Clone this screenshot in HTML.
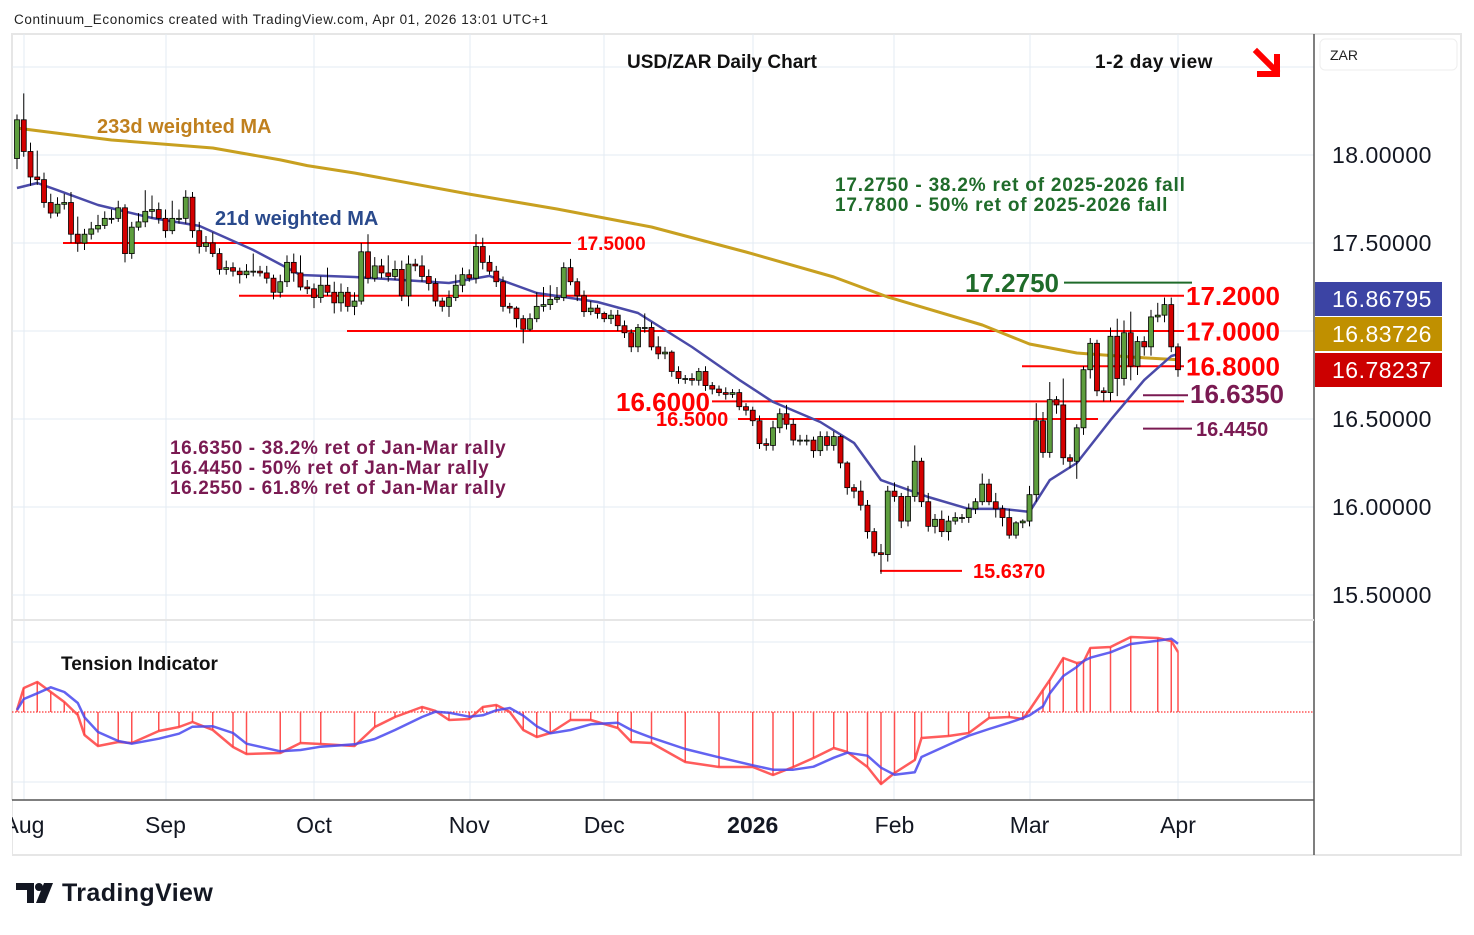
<!DOCTYPE html>
<html><head><meta charset="utf-8"><style>
html,body{margin:0;padding:0;background:#fff;}
body{width:1474px;height:930px;overflow:hidden;font-family:"Liberation Sans","DejaVu Sans",sans-serif;}
svg text{font-family:"Liberation Sans","DejaVu Sans",sans-serif;}
</style></head><body>
<svg id="chart" width="1474" height="930" xmlns="http://www.w3.org/2000/svg">
<rect x="0" y="0" width="1474" height="930" fill="#ffffff"/>
<text x="14" y="24" font-size="13.5" letter-spacing="0.6" fill="#222">Continuum_Economics created with TradingView.com, Apr 01, 2026 13:01 UTC+1</text>
<rect x="12" y="34" width="1449" height="821" fill="none" stroke="#e6e6e6" stroke-width="2"/>
<g id="grid"></g>
<line x1="1314" y1="34" x2="1314" y2="855" stroke="#555" stroke-width="1.5"/>
<line x1="12" y1="800" x2="1314" y2="800" stroke="#555" stroke-width="1.5"/>
<line x1="12" y1="620" x2="1314" y2="620" stroke="#e6e6e6" stroke-width="2"/>
<g id="levels"></g>
<g id="mas"></g>
<g id="candles"></g>
<g id="tension"></g>
<g id="axes"></g>
<text x="722" y="68" font-size="19" font-weight="bold" text-anchor="middle" fill="#111">USD/ZAR Daily Chart</text>
<text x="1095" y="68" font-size="19" font-weight="bold" letter-spacing="0.5" fill="#111">1-2 day view</text>
<g stroke="#ff0000" stroke-width="6" fill="none" stroke-linecap="square">
<line x1="1257" y1="52" x2="1276" y2="71"/><polyline points="1260,74 1277,74 1277,57"/></g>
<text x="97" y="133" font-size="20" font-weight="bold" fill="#c0801e">233d weighted MA</text>
<text x="215" y="225" font-size="20" font-weight="bold" fill="#2a4a8c">21d weighted MA</text>
<text x="835" y="191" font-size="19" font-weight="bold" letter-spacing="0.8" fill="#1f6b2a">17.2750 - 38.2% ret of 2025-2026 fall</text>
<text x="835" y="211" font-size="19" font-weight="bold" letter-spacing="0.8" fill="#1f6b2a">17.7800 - 50% ret of 2025-2026 fall</text>
<text x="170" y="454" font-size="19" font-weight="bold" letter-spacing="0.6" fill="#7a1a52">16.6350 - 38.2% ret of Jan-Mar rally</text>
<text x="170" y="474" font-size="19" font-weight="bold" letter-spacing="0.6" fill="#7a1a52">16.4450 - 50% ret of Jan-Mar rally</text>
<text x="170" y="494" font-size="19" font-weight="bold" letter-spacing="0.6" fill="#7a1a52">16.2550 - 61.8% ret of Jan-Mar rally</text>
<text x="61" y="670" font-size="19" font-weight="bold" fill="#111">Tension Indicator</text>
<rect x="1320" y="39" width="137" height="31" rx="5" fill="#fff" stroke="#eee"/>
<text x="1330" y="60" font-size="14" fill="#222">ZAR</text>
<g>
<path d="M16 883h18v20h-7v-13h-11z" fill="#131722"/><circle cx="39" cy="887" r="4" fill="#131722"/><path d="M44 883h9l-8 20h-9z" fill="#131722"/>
<text x="62" y="901" font-size="25" font-weight="bold" letter-spacing="0.4" fill="#131722">TradingView</text></g>
</svg>
<script>
const closes=[18.20,18.02,17.875,17.86,17.73,17.67,17.72,17.73,17.55,17.50,
17.55,17.58,17.60,17.64,17.64,17.70,17.44,17.59,17.62,17.68,
17.69,17.64,17.57,17.64,17.64,17.76,17.57,17.48,17.50,17.44,
17.35,17.36,17.34,17.32,17.34,17.34,17.33,17.30,17.22,17.28,
17.39,17.33,17.25,17.24,17.19,17.26,17.22,17.16,17.22,17.14,
17.17,17.45,17.30,17.37,17.33,17.31,17.35,17.20,17.38,17.37,
17.31,17.27,17.17,17.14,17.19,17.26,17.32,17.30,17.48,17.39,
17.34,17.28,17.14,17.13,17.07,17.01,17.07,17.14,17.15,17.18,
17.19,17.36,17.28,17.20,17.11,17.13,17.10,17.07,17.09,17.03,
16.99,16.91,17.02,17.02,16.91,16.87,16.88,16.77,16.73,16.73,
16.72,16.77,16.69,16.67,16.65,16.64,16.65,16.57,16.55,16.49,
16.36,16.35,16.45,16.53,16.47,16.38,16.38,16.38,16.32,16.40,
16.35,16.40,16.25,16.11,16.09,16.01,15.86,15.74,15.73,16.09,
16.06,15.92,16.06,16.26,16.03,15.89,15.93,15.86,15.92,15.94,
15.94,15.99,16.03,16.13,16.03,15.99,15.94,15.84,15.91,15.92,
16.07,16.49,16.31,16.61,16.58,16.28,16.26,16.45,16.78,16.93,
16.66,16.65,16.97,16.73,16.99,16.80,16.94,16.91,17.08,17.09,
17.15,16.91,16.78];
const firstOpen=17.98;
const upperWick=[.03,.15,.05,.15,.04,.05,.04,.05,.06,.10,.03,.04,.06,.04,.05,.04,.02,.03,.05,.12,
.08,.04,.05,.10,.05,.04,.03,.05,.04,.06,.03,.04,.03,.02,.04,.10,.03,.04,.02,.04,
.04,.05,.10,.04,.03,.05,.10,.06,.05,.03,.05,.05,.10,.05,.04,.10,.05,.05,.05,.03,
.06,.04,.03,.02,.04,.06,.04,.03,.07,.05,.04,.03,.03,.02,.01,.02,.03,.08,.10,.08,
.06,.03,.05,.02,.03,.04,.02,.01,.03,.03,.03,.02,.02,.08,.03,.06,.03,.01,.03,.02,
.03,.02,.03,.02,.02,.03,.02,.02,.02,.02,.03,.03,.04,.03,.05,.03,.03,.03,.02,.03,
.03,.03,.01,.01,.02,.06,.03,.02,.05,.03,.05,.02,.06,.09,.02,.05,.03,.05,.03,.03,
.02,.03,.02,.06,.03,.05,.02,.05,.01,.01,.05,.10,.05,.10,.02,.15,.02,.02,.02,.03,
.02,.02,.05,.10,.07,.12,.03,.03,.04,.07,.04,.04,.02];
const lowerWick=[.06,.03,.05,.03,.03,.03,.02,.03,.05,.05,.04,.03,.02,.02,.03,.02,.05,.03,.02,.03,
.04,.03,.04,.02,.03,.03,.04,.04,.03,.02,.03,.03,.03,.05,.02,.03,.02,.03,.04,.03,
.03,.05,.02,.03,.06,.03,.02,.06,.05,.03,.05,.02,.03,.02,.03,.03,.02,.03,.06,.03,
.03,.04,.03,.03,.06,.02,.04,.02,.03,.04,.02,.03,.03,.03,.05,.08,.01,.02,.03,.03,
.02,.02,.02,.03,.03,.02,.03,.02,.03,.03,.03,.03,.03,.03,.02,.03,.03,.03,.03,.03,
.03,.03,.03,.03,.02,.03,.02,.02,.03,.03,.03,.03,.03,.03,.03,.03,.03,.03,.04,.03,
.03,.03,.03,.04,.04,.03,.04,.02,.11,.04,.03,.04,.03,.03,.03,.03,.04,.03,.05,.02,
.03,.03,.03,.02,.02,.05,.05,.02,.02,.03,.03,.04,.03,.03,.05,.04,.04,.10,.04,.05,
.03,.05,.05,.10,.04,.08,.05,.05,.05,.03,.04,.03,.04];
const ma233Idx=[0,14,29,39,43,50,67,80,94,108,121,129,143,150,157,165,172];
const ma233Val=[18.153,18.085,18.04,17.972,17.94,17.898,17.778,17.693,17.591,17.449,17.307,17.193,17.034,16.926,16.875,16.852,16.837];
const ma21Idx=[0,3,6,12,20,27,35,42,50,64,70,77,86,92,100,107,112,119,124,128,135,141,146,150,153,157,162,167,171,172];
const ma21Val=[17.8125,17.841,17.80,17.716,17.642,17.597,17.46,17.318,17.307,17.273,17.313,17.216,17.165,17.102,16.909,16.722,16.597,16.483,16.364,16.153,16.057,15.989,15.989,15.972,16.153,16.25,16.494,16.722,16.858,16.868];
const tensionIdx=[0,1,3,5,7,9,10,12,15,17,21,24,26,29,32,34,39,42,45,50,53,56,60,62,64,67,69,71,73,75,77,79,82,85,89,91,94,99,104,109,112,115,118,121,123,126,128,130,133,134,138,141,144,147,149,150,152,153,155,157,158,159,162,165,169,171,172];
const tensionVal=[2,24,30,20,10,-3,-23,-34,-30,-31,-19,-15,-10,-18,-35,-42,-41,-31,-32,-34,-15,-5,5,1,-8,-7,5,7,0,-18,-25,-21,-8,-8,-16,-30,-31,-50,-55,-55,-63,-55,-46,-36,-40,-55,-72,-61,-48,-26,-24,-21,-6,-5,-7,2,22,32,54,49,50,64,65,75,74,71,60];
const priceTicks=[18.0,17.5,16.5,16.0,15.5];
const priceTickLabels=["18.00000","17.50000","16.50000","16.00000","15.50000"];
const monthLabels=["Aug","Sep","Oct","Nov","Dec","2026","Feb","Mar","Apr"];
const monthIdx=[1,22,44,67,87,109,130,150,172];
const lastMa21=16.86795, lastMa233=16.83726, lastClose=16.78237;

const NS='http://www.w3.org/2000/svg';
function xI(i){return 17+i*6.75;}
function yP(p){return 155+(18-p)*176;}
function yT(v){return 712-v;}
function mk(tag,attrs,parent){const e=document.createElementNS(NS,tag);for(const k in attrs)e.setAttribute(k,attrs[k]);parent.appendChild(e);return e;}
const grid=document.getElementById('grid');
[67,155,243,331,419,507,595,642,782].forEach(y=>{const l=mk('line',{x1:12,x2:1314,y1:y,y2:y,stroke:'#e3ebf3','stroke-width':1},grid);

});
[24,166,314,470,604,753,894,1030,1178].forEach(x=>{const l=mk('line',{x1:x,x2:x,y1:34,y2:800,stroke:'#e3ebf3','stroke-width':1},grid);

});

const levels=document.getElementById('levels');
function level(p,x1,x2,col,w,name){const l=mk('line',{x1:x1,x2:x2,y1:yP(p),y2:yP(p),stroke:col,'stroke-width':w},levels);

}
function ltext(t,x,p,size,col,anchor,name){const e=mk('text',{x:x,y:yP(p)+size*0.36,'font-size':size,'font-weight':'bold',fill:col,'text-anchor':anchor||'start'},levels);e.textContent=t;

}
level(17.5,63,571,'#ff0000',2,'level-17-5000');ltext('17.5000',577,17.5,19,'#ff0000','start','label-17-5000');
level(17.2,239,1184,'#ff0000',2,'level-17-2000');ltext('17.2000',1186,17.2,26,'#ff0000','start','label-17-2000');
level(17.0,347,1184,'#ff0000',2,'level-17-0000');ltext('17.0000',1186,17.0,26,'#ff0000','start','label-17-0000');
level(16.8,1022,1184,'#ff0000',2,'level-16-8000');ltext('16.8000',1186,16.8,26,'#ff0000','start','label-16-8000');
level(16.6,712,1184,'#ff0000',2,'level-16-6000');ltext('16.6000',710,16.6,26,'#ff0000','end','label-16-6000');
level(16.5,738,1098,'#ff0000',2,'level-16-5000');ltext('16.5000',656,16.5,20,'#ff0000','start','label-16-5000');
level(16.635,1143,1188,'#7a1a52',2,'level-16-6350');ltext('16.6350',1190,16.645,26,'#7a1a52','start','label-16-6350');
level(16.445,1143,1192,'#7a1a52',2,'level-16-4450');ltext('16.4450',1196,16.445,20,'#7a1a52','start','label-16-4450');
level(17.275,1064,1192,'#1f6b2a',2,'level-17-2750');ltext('17.2750',965,17.275,26,'#1f6b2a','start','label-17-2750');
level(15.637,880,962,'#ff0000',2,'level-15-6370');ltext('15.6370',973,15.637,20,'#ff0000','start','label-15-6370');

const mas=document.getElementById('mas');
function path(idx,val,col,w,name){let d='';for(let k=0;k<idx.length;k++){d+=(k?'L':'M')+xI(idx[k]).toFixed(1)+' '+yP(val[k]).toFixed(1);}
const p=mk('path',{d:d,fill:'none',stroke:col,'stroke-width':w,'stroke-linejoin':'round'},mas);

}
path(ma233Idx,ma233Val,'#c8a020',3,'ma233-line');
path(ma21Idx,ma21Val,'#4a4aa8',2.5,'ma21-line');

const cg=document.getElementById('candles');
for(let i=0;i<closes.length;i++){
 const o=i?closes[i-1]:firstOpen,c=closes[i];
 const hi=Math.max(o,c)+upperWick[i],lo=Math.min(o,c)-lowerWick[i];
 const x=xI(i);
 const g=mk('g',{},cg);
 
 
 mk('line',{x1:x,x2:x,y1:yP(hi),y2:yP(lo),stroke:'#000','stroke-width':1},g);
 const top=yP(Math.max(o,c)),h=Math.max(1,yP(Math.min(o,c))-top);
 mk('rect',{x:x-2.5,y:top,width:5,height:h,fill:c>=o?'#5e9e3e':'#d40000',stroke:'#000','stroke-width':0.8},g);
}

const tg=document.getElementById('tension');
const zl=mk('line',{x1:12,x2:1314,y1:712,y2:712,stroke:'#ff0000','stroke-width':1,'stroke-dasharray':'1.5,1.5'},tg);


let dT='';
for(let k=0;k<tensionIdx.length;k++){const x=xI(tensionIdx[k]),y=yT(tensionVal[k]);
 const b=mk('line',{x1:x,x2:x,y1:712,y2:y,stroke:'#ff5050','stroke-width':1.5},tg);
 
 
 dT+=(k?'L':'M')+x.toFixed(1)+' '+y.toFixed(1);}
let dS='';
for(let k=0;k<tensionIdx.length;k++){const a=Math.max(0,k-2);let s=0,n=0;for(let j=a;j<=k;j++){s+=tensionVal[j];n++;}
 dS+=(k?'L':'M')+xI(tensionIdx[k]).toFixed(1)+' '+yT(s/n).toFixed(1);}
const tl=mk('path',{d:dT,fill:'none',stroke:'#ff4040','stroke-width':2.5,'stroke-opacity':0.85,'stroke-linejoin':'round'},tg);


const sl=mk('path',{d:dS,fill:'none',stroke:'#4848ee','stroke-width':2.5,'stroke-opacity':0.85,'stroke-linejoin':'round'},tg);



const ax=document.getElementById('axes');
for(let k=0;k<priceTicks.length;k++){const t=mk('text',{x:1332,y:yP(priceTicks[k])+8,'font-size':23,'letter-spacing':0.5,fill:'#131722'},ax);t.textContent=priceTickLabels[k];
 
 }
function tag(v,cy,col,name){const r=mk('rect',{x:1315,y:cy-17,width:127,height:34,fill:col},ax);
 
 
 const t=mk('text',{x:1332,y:cy+8,'font-size':23,'letter-spacing':0.5,fill:'#fff'},ax);t.textContent=v.toFixed(5);
 
 }
tag(lastMa21,299,'#3c44a4','ma21-price-tag');
tag(lastMa233,334,'#c09000','ma233-price-tag');
tag(lastClose,370,'#cc0000','last-price-tag');
for(let k=0;k<monthLabels.length;k++){let x=xI(monthIdx[k]);if(k===0)x=24;
 const t=mk('text',{x:x,y:833,'font-size':23,fill:'#131722','text-anchor':'middle','font-weight':monthLabels[k]==='2026'?'bold':'normal'},ax);t.textContent=monthLabels[k];
 
 }
const cover=mk('rect',{x:0,y:800,width:12,height:60,fill:'#fff'},ax);


</script>
</body></html>
